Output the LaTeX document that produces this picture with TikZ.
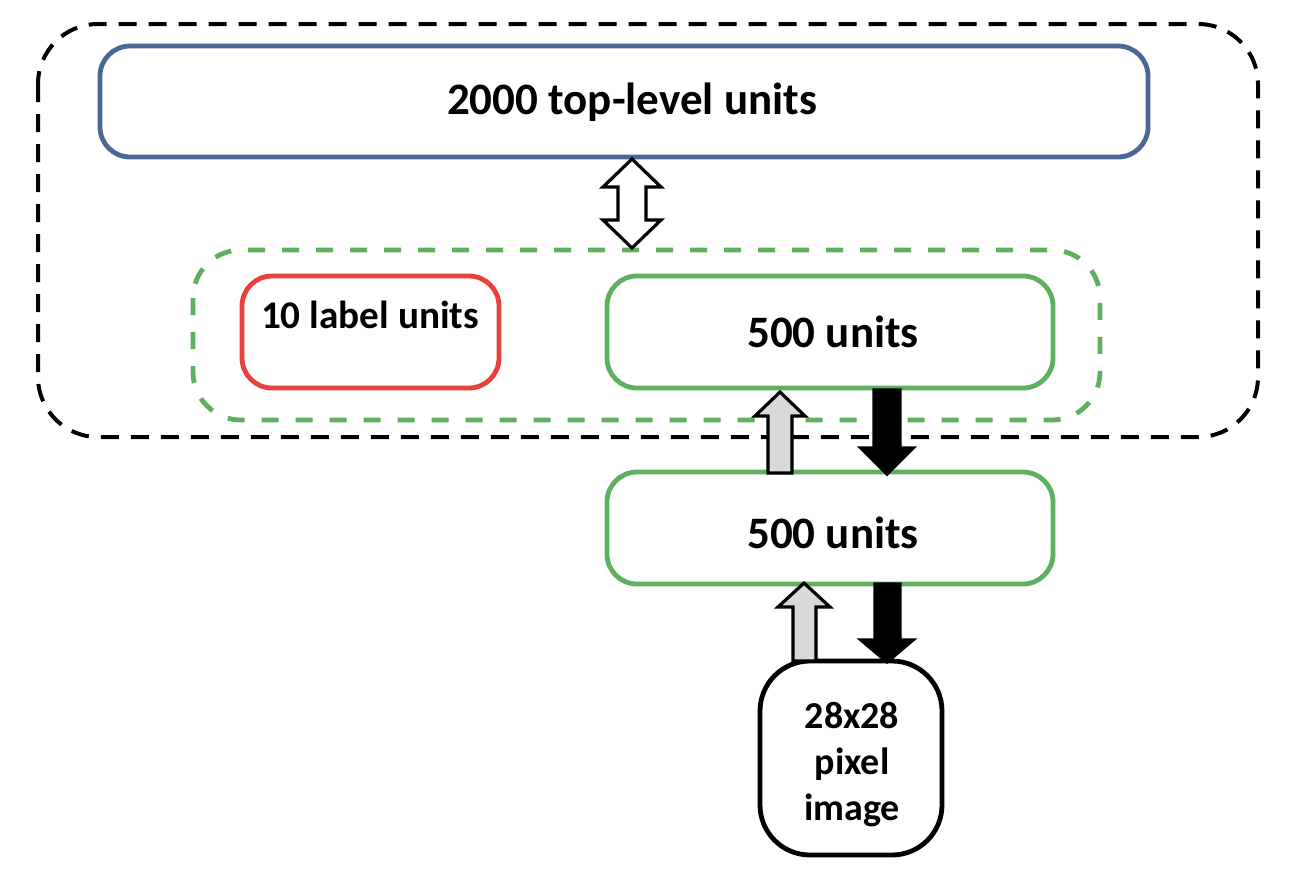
\documentclass[tikz,border=0pt]{standalone}
\usepackage{fontspec}
\setmainfont{Carlito}
\definecolor{topblue}{HTML}{4A6894}
\definecolor{boxgreen}{HTML}{5DB15E}
\definecolor{boxred}{HTML}{E8403A}
\definecolor{arrowgray}{HTML}{D9D9D9}
\tikzset{
  unitbox/.style={draw, line width=2.4pt, rounded corners=15pt, fill=white, inner sep=0pt},
  lbl/.style={font=\bfseries\fontsize{22.5}{27}\selectfont, inner sep=0pt, align=center},
  blockarrow/.style={draw=black, line width=1.6pt, line join=miter},
}
\begin{document}
\begin{tikzpicture}[x=0.5pt,y=-0.5pt]
\useasboundingbox (0,0) rectangle (1296,880);
% outer dashed group
\draw[line width=2pt, dash pattern=on 9pt off 6pt, rounded corners=30pt] (38,24) rectangle (1258,437);
% top box
\draw[unitbox, draw=topblue] (100,46) rectangle (1148,157);
\node[lbl] (top) at (632,102) {2000 top-level units};
% green dashed group
\draw[line width=2.4pt, draw=boxgreen, dash pattern=on 8.5pt off 8.5pt, rounded corners=24pt] (193,250) rectangle (1100,420);
% label units
\draw[unitbox, draw=boxred] (242,276) rectangle (499,388);
\node[lbl, font=\bfseries\fontsize{19.6}{24}\selectfont] (lab) at (370,315) {10 label units};
% 500 units upper
\draw[unitbox, draw=boxgreen] (607,276) rectangle (1053,388);
\node[lbl] (h2) at (833,332) {500 units};
% 500 units lower
\draw[unitbox, draw=boxgreen] (607,472) rectangle (1053,584);
\node[lbl] (h1) at (833,533) {500 units};
% pixel image
\draw[unitbox, draw=black, rounded corners=25pt] (760,661) rectangle (942,855);
\node[lbl, font=\bfseries\fontsize{19}{23}\selectfont] (img) at (852,765) {28x28\\pixel\\image};
% double arrow between top and 500
\draw[blockarrow, fill=white] (632,159) -- (661,187) -- (646,187) -- (646,220) -- (661,220) -- (632,248)
  -- (603,220) -- (618,220) -- (618,187) -- (603,187) -- cycle;
% up gray arrow upper
\draw[blockarrow, fill=arrowgray] (780,392) -- (805,416) -- (792,416) -- (792,473) -- (768,473) -- (768,416) -- (755,416) -- cycle;
% black down arrow upper
\draw[blockarrow, fill=black] (874,390) -- (900,390) -- (900,448) -- (913,448) -- (887,474) -- (861,448) -- (874,448) -- cycle;
% up gray arrow lower
\draw[blockarrow, fill=arrowgray] (804,583) -- (830,607) -- (816,607) -- (816,661) -- (793,661) -- (793,607) -- (778,607) -- cycle;
% black down arrow lower
\draw[blockarrow, fill=black] (875,584) -- (900,584) -- (900,640) -- (913,640) -- (887,662) -- (861,640) -- (875,640) -- cycle;
\end{tikzpicture}
\end{document}
